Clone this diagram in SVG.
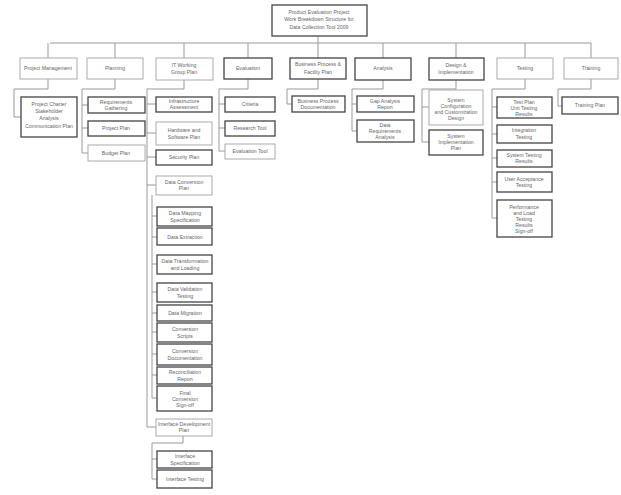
<svg xmlns="http://www.w3.org/2000/svg" width="621" height="495" viewBox="0 0 621 495">
<style>
.b{fill:#fff;stroke:#444;stroke-width:1.3}
.bl{fill:#fff;stroke:#aaa;stroke-width:1}
.t{font-family:"Liberation Sans",Arial,sans-serif;font-size:5.2px;fill:#666;text-anchor:middle}
.c{fill:none;stroke:#999;stroke-width:1}
</style>
<rect width="621" height="495" fill="#fff"/>
<g id="connectors">
<path class="c" d="M318 36V58M50 43H591M48 43V58M115 43V58M184 43V58M248 43V58M383 43V58M456 43V58M525 43V58M591 43V58"/>
<path class="c" d="M48 79V89H14V117H21"/>
<path class="c" d="M115 79V89H82V153H88M82 105H88M82 128H88"/>
<path class="c" d="M184 80V89H147V427H156M147 104H156M147 133H156M147 157H156M147 185H156"/>
<path class="c" d="M152 195V398H157M152 216H157M152 237H157M152 264H157M152 292H157M152 313H157M152 332H157M152 354H157M152 375H157"/>
<path class="c" d="M183 436V443H152V479H157M152 459H157"/>
<path class="c" d="M248 79V89H219V151H225M219 104H225M219 128H225"/>
<path class="c" d="M318 79V89H287V104H292"/>
<path class="c" d="M383 80V89H352V131H357M352 104H357"/>
<path class="c" d="M456 80V89H422V142H429M422 107H429"/>
<path class="c" d="M525 79V89H492V218H497M492 107H497M492 134H497M492 158H497M492 182H497"/>
<path class="c" d="M591 79V89H558V106H562"/>
</g>
<g id="root"><rect class="b" x="272" y="5" width="95" height="31"/>
<text class="t" x="319" y="14">Product Evaluation Project</text>
<text class="t" x="319" y="21">Work Breakdown Structure for</text>
<text class="t" x="319" y="29">Data Collection Tool 2009</text></g>

<g id="n1"><rect class="bl" x="20" y="58" width="57" height="21"/><text class="t" x="48" y="70">Project Management</text></g>
<g id="n1c1"><rect class="b" x="21" y="97" width="56" height="40"/>
<text class="t" x="49" y="106">Project Charter</text><text class="t" x="49" y="113">Stakeholder</text><text class="t" x="49" y="120">Analysis</text><text class="t" x="49" y="128">Communication Plan</text></g>

<g id="n2"><rect class="bl" x="87" y="58" width="56" height="21"/><text class="t" x="115" y="70">Planning</text></g>
<g id="n2c1"><rect class="b" x="88" y="97" width="57" height="16"/><text class="t" x="116" y="104">Requirements</text><text class="t" x="116" y="110">Gathering</text></g>
<g id="n2c2"><rect class="b" x="88" y="121" width="57" height="15"/><text class="t" x="116" y="130">Project Plan</text></g>
<g id="n2c3"><rect class="bl" x="88" y="145" width="57" height="16"/><text class="t" x="116" y="155">Budget Plan</text></g>

<g id="n3"><rect class="bl" x="156" y="58" width="57" height="22"/><text class="t" x="184" y="67">IT Working</text><text class="t" x="184" y="74">Group Plan</text></g>
<g id="n3c1"><rect class="b" x="156" y="97" width="56" height="15"/><text class="t" x="184" y="103">Infrastructure</text><text class="t" x="184" y="109">Assessment</text></g>
<g id="n3c2"><rect class="bl" x="156" y="122" width="56" height="23"/><text class="t" x="184" y="132">Hardware and</text><text class="t" x="184" y="139">Software Plan</text></g>
<g id="n3c3"><rect class="b" x="156" y="150" width="56" height="15"/><text class="t" x="184" y="159">Security Plan</text></g>
<g id="n3g1"><rect class="bl" x="156" y="176" width="56" height="19"/><text class="t" x="184" y="184">Data Conversion</text><text class="t" x="184" y="190">Plan</text></g>
<g id="n3g1a"><rect class="b" x="157" y="207" width="55" height="19"/><text class="t" x="185" y="215">Data Mapping</text><text class="t" x="185" y="222">Specification</text></g>
<g id="n3g1b"><rect class="b" x="157" y="228" width="55" height="17"/><text class="t" x="185" y="239">Data Extraction</text></g>
<g id="n3g1c"><rect class="b" x="157" y="255" width="55" height="19"/><text class="t" x="185" y="263">Data Transformation</text><text class="t" x="185" y="270">and Loading</text></g>
<g id="n3g1d"><rect class="b" x="157" y="283" width="55" height="19"/><text class="t" x="185" y="291">Data Validation</text><text class="t" x="185" y="298">Testing</text></g>
<g id="n3g1e"><rect class="b" x="157" y="305" width="55" height="16"/><text class="t" x="185" y="315">Data Migration</text></g>
<g id="n3g1f"><rect class="b" x="157" y="323" width="55" height="19"/><text class="t" x="185" y="331">Conversion</text><text class="t" x="185" y="338">Scripts</text></g>
<g id="n3g1g"><rect class="b" x="157" y="344" width="55" height="21"/><text class="t" x="185" y="353">Conversion</text><text class="t" x="185" y="360">Documentation</text></g>
<g id="n3g1h"><rect class="b" x="157" y="367" width="55" height="17"/><text class="t" x="185" y="374">Reconciliation</text><text class="t" x="185" y="381">Report</text></g>
<g id="n3g1i"><rect class="b" x="157" y="386" width="55" height="25"/><text class="t" x="185" y="395">Final</text><text class="t" x="185" y="401">Conversion</text><text class="t" x="185" y="407">Sign-off</text></g>
<g id="n3g2"><rect class="bl" x="156" y="419" width="56" height="17"/><text class="t" x="184" y="426">Interface Development</text><text class="t" x="184" y="432">Plan</text></g>
<g id="n3g2a"><rect class="b" x="157" y="451" width="55" height="17"/><text class="t" x="185" y="458">Interface</text><text class="t" x="185" y="465">Specification</text></g>
<g id="n3g2b"><rect class="b" x="157" y="470" width="55" height="18"/><text class="t" x="185" y="481">Interface Testing</text></g>

<g id="n4"><rect class="b" x="224" y="58" width="48" height="21"/><text class="t" x="248" y="70">Evaluation</text></g>
<g id="n4c1"><rect class="b" x="225" y="97" width="50" height="15"/><text class="t" x="250" y="106">Criteria</text></g>
<g id="n4c2"><rect class="b" x="225" y="121" width="50" height="15"/><text class="t" x="250" y="130">Research Tool</text></g>
<g id="n4c3"><rect class="bl" x="225" y="144" width="50" height="15"/><text class="t" x="250" y="153">Evaluation Tool</text></g>

<g id="n5"><rect class="b" x="290" y="58" width="56" height="21"/><text class="t" x="318" y="66">Business Process &amp;</text><text class="t" x="318" y="74">Facility Plan</text></g>
<g id="n5c1"><rect class="b" x="292" y="96" width="53" height="16"/><text class="t" x="318" y="103">Business Process</text><text class="t" x="318" y="109">Documentation</text></g>

<g id="n6"><rect class="b" x="355" y="58" width="56" height="22"/><text class="t" x="383" y="70">Analysis</text></g>
<g id="n6c1"><rect class="b" x="357" y="96" width="57" height="16"/><text class="t" x="385" y="103">Gap Analysis</text><text class="t" x="385" y="109">Report</text></g>
<g id="n6c2"><rect class="b" x="357" y="120" width="57" height="22"/><text class="t" x="385" y="127">Data</text><text class="t" x="385" y="133">Requirements</text><text class="t" x="385" y="139">Analysis</text></g>

<g id="n7"><rect class="b" x="429" y="58" width="55" height="22"/><text class="t" x="456" y="67">Design &amp;</text><text class="t" x="456" y="74">Implementation</text></g>
<g id="n7c1"><rect class="bl" x="429" y="90" width="54" height="35"/><text class="t" x="456" y="102">System</text><text class="t" x="456" y="108">Configuration</text><text class="t" x="456" y="114">and Customization</text><text class="t" x="456" y="120">Design</text></g>
<g id="n7c2"><rect class="b" x="429" y="130" width="54" height="25"/><text class="t" x="456" y="138">System</text><text class="t" x="456" y="144">Implementation</text><text class="t" x="456" y="150">Plan</text></g>

<g id="n8"><rect class="bl" x="497" y="58" width="56" height="21"/><text class="t" x="525" y="70">Testing</text></g>
<g id="n8c1"><rect class="b" x="497" y="97" width="55" height="21"/><text class="t" x="524" y="104">Test Plan</text><text class="t" x="524" y="110">Unit Testing</text><text class="t" x="524" y="116">Results</text></g>
<g id="n8c2"><rect class="b" x="497" y="125" width="55" height="18"/><text class="t" x="524" y="132">Integration</text><text class="t" x="524" y="139">Testing</text></g>
<g id="n8c3"><rect class="b" x="497" y="150" width="55" height="17"/><text class="t" x="524" y="157">System Testing</text><text class="t" x="524" y="163">Results</text></g>
<g id="n8c4"><rect class="b" x="497" y="172" width="55" height="20"/><text class="t" x="524" y="181">User Acceptance</text><text class="t" x="524" y="187">Testing</text></g>
<g id="n8c5"><rect class="b" x="497" y="200" width="55" height="37"/><text class="t" x="524" y="209">Performance</text><text class="t" x="524" y="215">and Load</text><text class="t" x="524" y="221">Testing</text><text class="t" x="524" y="227">Results</text><text class="t" x="524" y="233">Sign-off</text></g>

<g id="n9"><rect class="bl" x="564" y="58" width="54" height="21"/><text class="t" x="591" y="70">Training</text></g>
<g id="n9c1"><rect class="b" x="562" y="97" width="56" height="17"/><text class="t" x="590" y="107">Training Plan</text></g>
</svg>
